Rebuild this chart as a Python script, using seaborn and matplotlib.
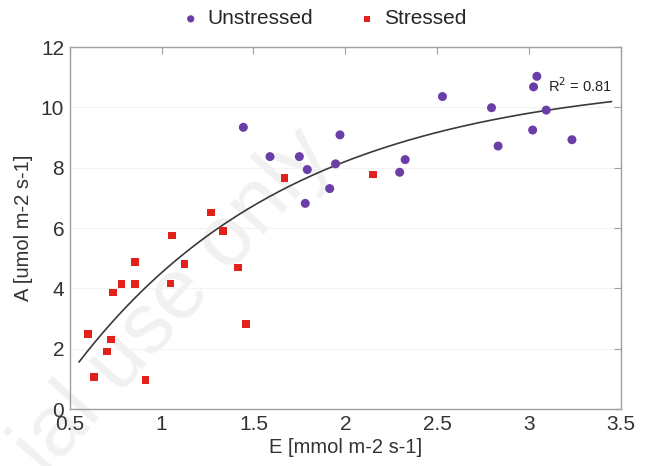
import numpy as np
import pandas as pd
import seaborn as sns
import matplotlib
matplotlib.use("Agg")
import matplotlib.pyplot as plt

# datos
e_unstressed = [3.043, 3.025, 2.529, 2.796, 3.094, 3.020, 3.234, 2.832, 1.971,
                1.947, 2.326, 2.296, 1.915, 1.793, 1.782, 1.590, 1.750, 1.445]
a_unstressed = [11.03, 10.68, 10.36, 9.99, 9.91, 9.25, 8.93, 8.72, 9.09,
                8.13, 8.27, 7.85, 7.31, 7.94, 6.82, 8.37, 8.37, 9.34]

e_stressed = [0.600, 0.632, 0.703, 0.725, 0.734, 0.782, 0.854, 0.854, 0.912,
              1.049, 1.056, 1.125, 1.270, 1.334, 1.416, 1.461, 1.668, 2.151]
a_stressed = [2.50, 1.07, 1.91, 2.31, 3.86, 4.14, 4.14, 4.88, 0.96,
              4.16, 5.75, 4.81, 6.52, 5.90, 4.69, 2.83, 7.66, 7.78]

# ajuste exponencial A = c - d*exp(-k*E)
fit_c, fit_d, fit_k = 11.04, 14.99, 0.833
fit_range = (0.55, 3.45)
r2_text = "R$^2$ = 0.81"

x_ticks = [0.5, 1, 1.5, 2, 2.5, 3, 3.5]
y_ticks = [0, 2, 4, 6, 8, 10, 12]

df = pd.DataFrame({
    "E": e_unstressed + e_stressed,
    "A": a_unstressed + a_stressed,
    "grupo": ["Unstressed"] * len(e_unstressed) + ["Stressed"] * len(e_stressed),
})

sns.set_style("white")
plt.rcParams["font.family"] = ["Liberation Sans", "DejaVu Sans"]

fig = plt.figure(figsize=(6.46, 4.66), dpi=100)
ax = fig.add_axes([0.108, 0.122, 0.853, 0.777])
ax.set_zorder(2)
ax.patch.set_alpha(0)

# marca de agua (detras de los puntos)
fig.text(0.0, -0.05, "ial use only", fontsize=62, color="#f1f1f1",
         rotation=48, ha="left", va="bottom", zorder=0)

gris = "#a39d9d"
for y in y_ticks[1:-1]:
    ax.axhline(y, color="#f3f3f3", lw=0.8, zorder=0)

sns.scatterplot(data=df[df.grupo == "Unstressed"], x="E", y="A", ax=ax,
                color="#6a3ea6", marker="o", s=42, edgecolor="none",
                label="Unstressed", zorder=3)
sns.scatterplot(data=df[df.grupo == "Stressed"], x="E", y="A", ax=ax,
                color="#e2211c", marker="s", s=30, edgecolor="none",
                label="Stressed", zorder=3)

xf = np.linspace(fit_range[0], fit_range[1], 200)
yf = fit_c - fit_d * np.exp(-fit_k * xf)
ax.plot(xf, yf, color="#3a3a3a", lw=1.2, zorder=2)

ax.text(3.455, 10.72, r2_text, fontsize=10.5, color="#222222",
        ha="right", va="center")

ax.set_xlim(0.5, 3.5)
ax.set_ylim(0, 12)
ax.set_xticks(x_ticks)
ax.set_xticklabels(["0.5", "1", "1.5", "2", "2.5", "3", "3.5"])
ax.set_yticks(y_ticks)
ax.tick_params(direction="in", length=5, width=0.8, color=gris,
               top=True, right=True, labelsize=15, labelcolor="#333333", pad=4)
for s in ax.spines.values():
    s.set_color(gris)
    s.set_linewidth(1.0)

ax.set_xlabel("E [mmol m-2 s-1]", fontsize=14.5, color="#333333", labelpad=3)
ax.set_ylabel("A [umol m-2 s-1]", fontsize=14.5, color="#333333", labelpad=6)

ax.legend(loc="lower center", bbox_to_anchor=(0.46, 1.0), ncol=2,
          frameon=False, fontsize=15, handlelength=1.0, handletextpad=0.3,
          columnspacing=2.1, markerscale=0.8)

fig.savefig("out.png", dpi=100)
